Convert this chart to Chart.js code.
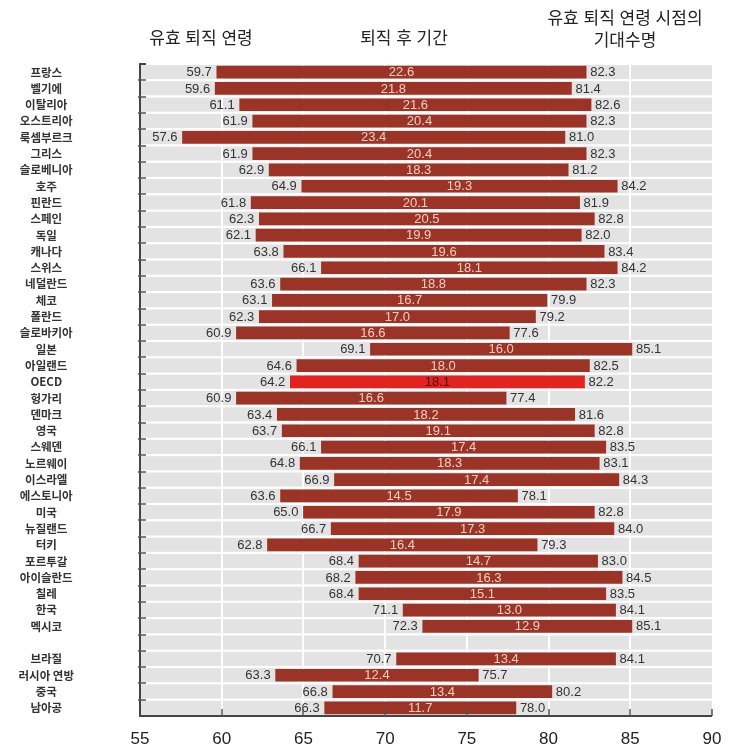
<!DOCTYPE html>
<html lang="ko">
<head>
<meta charset="utf-8">
<title>유효 퇴직 연령과 퇴직 후 기간</title>
<script src="https://cdn.jsdelivr.net/npm/chart.js@4.4.1/dist/chart.umd.min.js"></script>
<style>
  body { margin: 0; background: #fff; }
  #wrap { position: relative; width: 729px; height: 752px; }
  #graphCanvas { display: block; position: absolute; left: 0; top: 0; }
  .head {
    position: absolute;
    font-family: "Noto Sans CJK KR", sans-serif;
    font-size: 17px;
    color: #222;
    text-align: center;
    line-height: 22px;
    white-space: nowrap;
    transform: translateX(-50%);
  }
</style>
</head>
<body>
<div id="wrap">
  <canvas id="graphCanvas" width="729" height="752"></canvas>
  <div class="head" style="left:201px; top:26px;">유효 퇴직 연령</div>
  <div class="head" style="left:404px; top:26px;">퇴직 후 기간</div>
  <div class="head" style="left:625px; top:6px;">유효 퇴직 연령 시점의<br>기대수명</div>
</div>
<script>
// '' is the empty row between 멕시코 and 브라질
var countries = ['프랑스', '벨기에', '이탈리아', '오스트리아', '룩셈부르크', '그리스', '슬로베니아', '호주',
    '핀란드', '스페인', '독일', '캐나다', '스위스', '네덜란드', '체코', '폴란드', '슬로바키아', '일본',
    '아일랜드', 'OECD', '헝가리', '덴마크', '영국', '스웨덴', '노르웨이', '이스라엘', '에스토니아', '미국',
    '뉴질랜드', '터키', '포르투갈', '아이슬란드', '칠레', '한국', '멕시코', '', '브라질', '러시아 연방',
    '중국', '남아공'];

var retireAge = [59.7, 59.6, 61.1, 61.9, 57.6, 61.9, 62.9, 64.9, 61.8, 62.3, 62.1, 63.8, 66.1, 63.6,
    63.1, 62.3, 60.9, 69.1, 64.6, 64.2, 60.9, 63.4, 63.7, 66.1, 64.8, 66.9, 63.6, 65.0, 66.7, 62.8,
    68.4, 68.2, 68.4, 71.1, 72.3, null, 70.7, 63.3, 66.8, 66.3];

var lifeExpect = [82.3, 81.4, 82.6, 82.3, 81.0, 82.3, 81.2, 84.2, 81.9, 82.8, 82.0, 83.4, 84.2, 82.3,
    79.9, 79.2, 77.6, 85.1, 82.5, 82.2, 77.4, 81.6, 82.8, 83.5, 83.1, 84.3, 78.1, 82.8, 84.0, 79.3,
    83.0, 84.5, 83.5, 84.1, 85.1, null, 84.1, 75.7, 80.2, 78.0];

var yearsAfter = [22.6, 21.8, 21.6, 20.4, 23.4, 20.4, 18.3, 19.3, 20.1, 20.5, 19.9, 19.6, 18.1, 18.8,
    16.7, 17.0, 16.6, 16.0, 18.0, 18.1, 16.6, 18.2, 19.1, 17.4, 18.3, 17.4, 14.5, 17.9, 17.3, 16.4,
    14.7, 16.3, 15.1, 13.0, 12.9, null, 13.4, 12.4, 13.4, 11.7];

var xTicks = [55, 60, 65, 70, 75, 80, 85, 90];

var barColor = '#9b3426';
var oecdColor = '#e2231f';
var numFont = '13px "Liberation Sans Narrow", "Liberation Sans", Arial, sans-serif';

var ranges = [];
for (var i = 0; i < countries.length; i++) {
    ranges.push(retireAge[i] == null ? null : [retireAge[i], lifeExpect[i]]);
}

// gray row bands behind the grid
var rowBands = {
    id: 'rowBands',
    beforeDraw: function (chart) {
        var ctx = chart.ctx, a = chart.chartArea, ys = chart.scales.y;
        var step = ys.getPixelForValue(1) - ys.getPixelForValue(0);
        ctx.save();
        ctx.fillStyle = '#e3e3e3';
        for (var i = 0; i < countries.length; i++) {
            var c = ys.getPixelForValue(i);
            ctx.fillRect(a.left, c - step / 2 + 1, a.right - a.left, step - 2.2);
        }
        ctx.restore();
    }
};

// value labels: start, duration, end
var barLabels = {
    id: 'barLabels',
    afterDatasetsDraw: function (chart) {
        var ctx = chart.ctx;
        var meta = chart.getDatasetMeta(0);
        ctx.save();
        ctx.font = numFont;
        ctx.textBaseline = 'middle';
        meta.data.forEach(function (bar, i) {
            if (retireAge[i] == null) return;
            var p = bar.getProps(['x', 'y', 'base'], true);
            ctx.fillStyle = '#333';
            ctx.textAlign = 'right';
            ctx.fillText(retireAge[i].toFixed(1), p.base - 5, p.y + 0.5);
            ctx.textAlign = 'left';
            ctx.fillText(lifeExpect[i].toFixed(1), p.x + 4, p.y + 0.5);
            ctx.textAlign = 'center';
            ctx.fillStyle = countries[i] === 'OECD' ? '#4a0c08' : '#f3cdc2';
            ctx.fillText(yearsAfter[i].toFixed(1), (p.x + p.base) / 2, p.y + 0.5);
        });
        ctx.restore();
    }
};

// axis lines with inward ticks
var axisFrame = {
    id: 'axisFrame',
    afterDraw: function (chart) {
        var ctx = chart.ctx, a = chart.chartArea;
        var xs = chart.scales.x, ys = chart.scales.y;
        var step = ys.getPixelForValue(1) - ys.getPixelForValue(0);
        ctx.save();
        ctx.strokeStyle = '#444';
        ctx.lineWidth = 2;
        ctx.beginPath();
        ctx.moveTo(a.left + 6, a.top);
        ctx.lineTo(a.left, a.top);
        ctx.lineTo(a.left, a.bottom);
        ctx.lineTo(a.right, a.bottom);
        ctx.stroke();
        ctx.lineWidth = 1.5;
        ctx.strokeStyle = '#555';
        ctx.beginPath();
        for (var i = 0; i < countries.length - 1; i++) {
            var yb = Math.round(ys.getPixelForValue(i) + step / 2);
            ctx.moveTo(a.left - 2, yb);
            ctx.lineTo(a.left + 6, yb);
        }
        xTicks.forEach(function (v) {
            if (v === xTicks[0]) return;
            var xp = Math.round(xs.getPixelForValue(v));
            ctx.moveTo(xp, a.bottom);
            ctx.lineTo(xp, a.bottom - 7);
        });
        ctx.stroke();
        ctx.restore();
    }
};

var graphTarget = document.getElementById('graphCanvas');

var barGraph = new Chart(graphTarget, {
    type: 'bar',
    data: {
        labels: countries,
        datasets: [
            {
                data: ranges,
                backgroundColor: countries.map(function (c) { return c === 'OECD' ? oecdColor : barColor; }),
                borderWidth: 0,
                barThickness: 12
            }
        ]
    },
    options: {
        indexAxis: 'y',
        responsive: false,
        animation: false,
        layout: { padding: { top: 64, right: 17, bottom: 2, left: 0 } },
        plugins: {
            legend: { display: false },
            tooltip: { enabled: false }
        },
        scales: {
            x: {
                min: 55,
                max: 90,
                afterBuildTicks: function (scale) {
                    scale.ticks = xTicks.map(function (v) { return { value: v }; });
                },
                afterFit: function (scale) {
                    scale.height = 34;
                    scale.paddingLeft = 0;
                    scale.paddingRight = 0;
                },
                border: { display: false },
                grid: {
                    drawTicks: false,
                    lineWidth: 2,
                    color: function (ctx) {
                        var v = ctx.tick ? ctx.tick.value : 0;
                        return (v === 55 || v === 90) ? 'rgba(0,0,0,0)' : '#ffffff';
                    }
                },
                ticks: {
                    padding: 13,
                    color: '#222',
                    font: { family: '"Liberation Sans", Arial, sans-serif', size: 17 }
                }
            },
            y: {
                afterFit: function (scale) {
                    scale.width = 140;
                    scale.paddingTop = 0;
                    scale.paddingBottom = 0;
                },
                border: { display: false },
                grid: { display: false, drawTicks: false },
                ticks: {
                    autoSkip: false,
                    crossAlign: 'center',
                    padding: 66,
                    color: '#333',
                    font: { family: '"Noto Sans CJK KR", sans-serif', size: 11.5, weight: 'bold' }
                }
            }
        }
    },
    plugins: [rowBands, barLabels, axisFrame]
});
</script>
</body>
</html>
